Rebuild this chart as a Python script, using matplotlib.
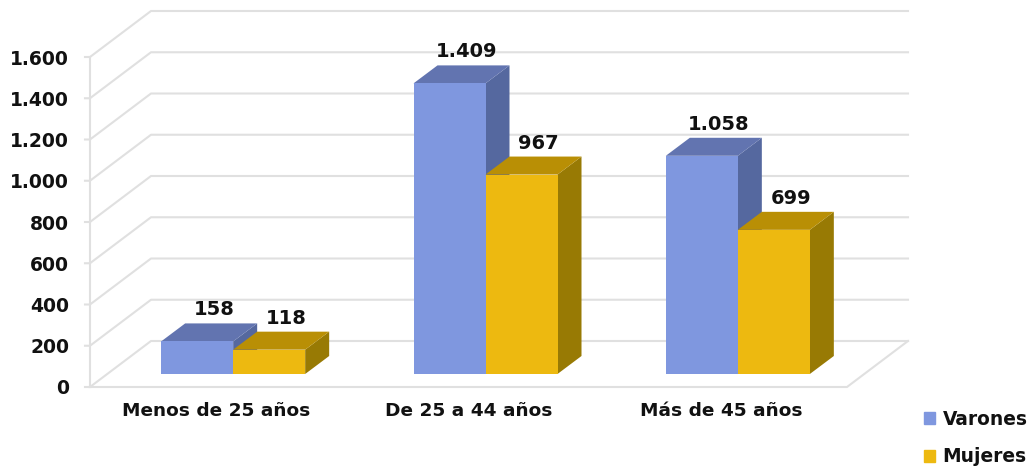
import matplotlib
matplotlib.use('Agg')
from matplotlib import pyplot as plt
from matplotlib.patches import Polygon, Patch

categories = ['Menos de 25 años', 'De 25 a 44 años', 'Más de 45 años']
varones = [158, 1409, 1058]
mujeres = [118, 967, 699]
y_ticks = [0, 200, 400, 600, 800, 1000, 1200, 1400, 1600]
y_labels = ['0', '200', '400', '600', '800', '1.000', '1.200', '1.400', '1.600']
value_labels_v = ['158', '1.409', '1.058']
value_labels_m = ['118', '967', '699']

W, H = 1028, 471
fig = plt.figure(figsize=(W / 100, H / 100), dpi=100)
#axes = front plane of the fake 3d box, in pixels
left, right, bottom, top = 90, 847, 387, 57
graph = fig.add_axes([left / W, 1 - bottom / H, (right - left) / W, (bottom - top) / H])
graph.set_xlim(0, 3)
graph.set_ylim(0, 1600)
graph.patch.set_alpha(0)
for s in graph.spines.values():
    s.set_visible(False)

# pixel sizes turned into data units
px_x = 3 / (right - left)
px_y = 1600 / (bottom - top)
wall_dx, wall_dy = 61 * px_x, 46 * px_y
depth_dx, depth_dy = 24 * px_x, 18 * px_y
base_dx, base_dy = 17 * px_x, 13 * px_y
bar_w = 72 * px_x

grid = '#e0e0e0'
lw = 1.5
for t in y_ticks:
    graph.plot([-5 * px_x, 0, wall_dx, 3 + wall_dx], [t, t, t + wall_dy, t + wall_dy],
               color=grid, lw=lw, clip_on=False, zorder=1)
graph.plot([0, 3, 3 + wall_dx], [0, 0, wall_dy], color=grid, lw=lw, clip_on=False, zorder=1)
graph.plot([0, 0], [0, 1600], color=grid, lw=lw, clip_on=False, zorder=1)


def bar3d(x, val, front, roof, side, z):
    x0 = x + base_dx
    x1 = x0 + bar_w
    y0 = base_dy
    y1 = val + base_dy
    dx, dy = depth_dx, depth_dy
    graph.add_patch(Polygon([(x1, y0), (x1 + dx, y0 + dy), (x1 + dx, y1 + dy), (x1, y1)],
                            fc=side, ec='none', clip_on=False, zorder=z))
    graph.add_patch(Polygon([(x0, y1), (x0 + dx, y1 + dy), (x1 + dx, y1 + dy), (x1, y1)],
                            fc=roof, ec='none', clip_on=False, zorder=z))
    graph.add_patch(Polygon([(x0, y0), (x1, y0), (x1, y1), (x0, y1)],
                            fc=front, ec='none', clip_on=False, zorder=z + 0.1))


blue = ('#7f97df', '#6274b0', '#55689f')
gold = ('#edb910', '#b98f05', '#987a04')
for i in range(3):
    c = i + 0.5
    bar3d(c - bar_w, varones[i], *blue, 3)
    bar3d(c, mujeres[i], *gold, 4)
    graph.annotate(value_labels_v[i], (c - bar_w / 2 + base_dx + depth_dx / 2, varones[i] + base_dy + depth_dy),
                   xytext=(5, 4), textcoords='offset pixels', ha='center', va='bottom',
                   fontsize=14, fontweight='bold', color='#111111', zorder=6)
    graph.annotate(value_labels_m[i], (c + bar_w / 2 + base_dx + depth_dx / 2, mujeres[i] + base_dy + depth_dy),
                   xytext=(5, 4), textcoords='offset pixels', ha='center', va='bottom',
                   fontsize=14, fontweight='bold', color='#111111', zorder=6)

graph.set_yticks(y_ticks)
graph.set_yticklabels(y_labels, fontsize=13.5, fontweight='bold', color='#111111')
graph.set_xticks([0.5, 1.5, 2.5])
graph.set_xticklabels(categories, fontsize=13.3, fontweight='bold', color='#111111')
graph.tick_params(axis='both', length=0)
graph.tick_params(axis='y', pad=15)
graph.tick_params(axis='x', pad=11)

handles = [Patch(color=blue[0], label='Varones'), Patch(color=gold[0], label='Mujeres')]
graph.legend(handles=handles, loc='center left', frameon=False, handlelength=0.6, handleheight=0.6,
             handletextpad=0.4, labelspacing=1.0, borderpad=0, borderaxespad=0,
             prop={'size': 13.4, 'weight': 'bold'}, labelcolor='#111111',
             bbox_to_anchor=((924 - left) / (right - left), (bottom - 438) / (bottom - top)))

fig.savefig('out.png', dpi=100)
